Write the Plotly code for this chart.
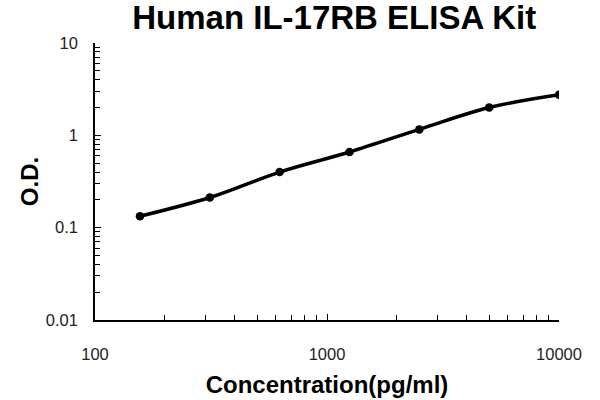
import plotly.graph_objects as go

# Standard curve data
concentration = [156.25, 312.5, 625, 1250, 2500, 5000, 10000]
od = [0.133, 0.212, 0.40, 0.66, 1.16, 2.0, 2.75]

x_tick_vals = [100, 1000, 10000]
x_tick_text = ["100", "1000", "10000"]
y_tick_vals = [0.01, 0.1, 1, 10]
y_tick_text = ["0.01", "0.1", "1", "10"]

fig = go.Figure()

# smooth curve through the standards
fig.add_trace(go.Scatter(
    x=concentration, y=od,
    mode="lines",
    line=dict(color="black", width=3.5, shape="spline", smoothing=1.0),
    hoverinfo="skip",
    showlegend=False
))

fig.add_trace(go.Scatter(
    x=concentration, y=od,
    mode="markers",
    marker=dict(color="black", size=8.5),
    showlegend=False
))

axis_font = dict(family="Liberation Sans, Arial", size=16.5, color="#222")
title_font = dict(family="Liberation Sans, Arial", size=24, color="black")

fig.update_layout(
    width=600, height=400,
    margin=dict(l=95, r=41, t=43, b=80),
    paper_bgcolor="white", plot_bgcolor="white",
    title=dict(text="<b>Human IL-17RB ELISA Kit</b>",
               font=dict(family="Liberation Sans, Arial", size=33, color="black"),
               x=0.557, xanchor="center", yref="container", y=0.985, yanchor="top",
               pad=dict(t=0, b=0)),
    xaxis=dict(
        type="log", range=[2, 4], automargin=False,
        tickvals=x_tick_vals, ticktext=x_tick_text,
        ticks="inside", ticklen=6, tickcolor="black",
        minor=dict(ticks="inside", ticklen=5, tickcolor="black", dtick="D1"),
        showline=True, linecolor="black", linewidth=1.5,
        showgrid=False, zeroline=False,
        tickfont=axis_font, ticklabelstandoff=18,
        title=dict(text="<b>Concentration(pg/ml)</b>", font=title_font, standoff=15),
    ),
    yaxis=dict(
        type="log", range=[-2, 1], automargin=False,
        tickvals=y_tick_vals, ticktext=y_tick_text,
        ticks="inside", ticklen=6, tickcolor="black",
        minor=dict(ticks="inside", ticklen=5, tickcolor="black", dtick="D1"),
        showline=True, linecolor="black", linewidth=1.5,
        showgrid=False, zeroline=False,
        tickfont=axis_font, ticklabelstandoff=12,
        title=dict(text="<b>O.D.</b>", font=title_font, standoff=0),
    ),
)

# page body has a default 8px margin; drop it so the chart fills the window
fig.write_html("out.html", config={"displayModeBar": False},
               post_script="document.body.style.margin='0';")
